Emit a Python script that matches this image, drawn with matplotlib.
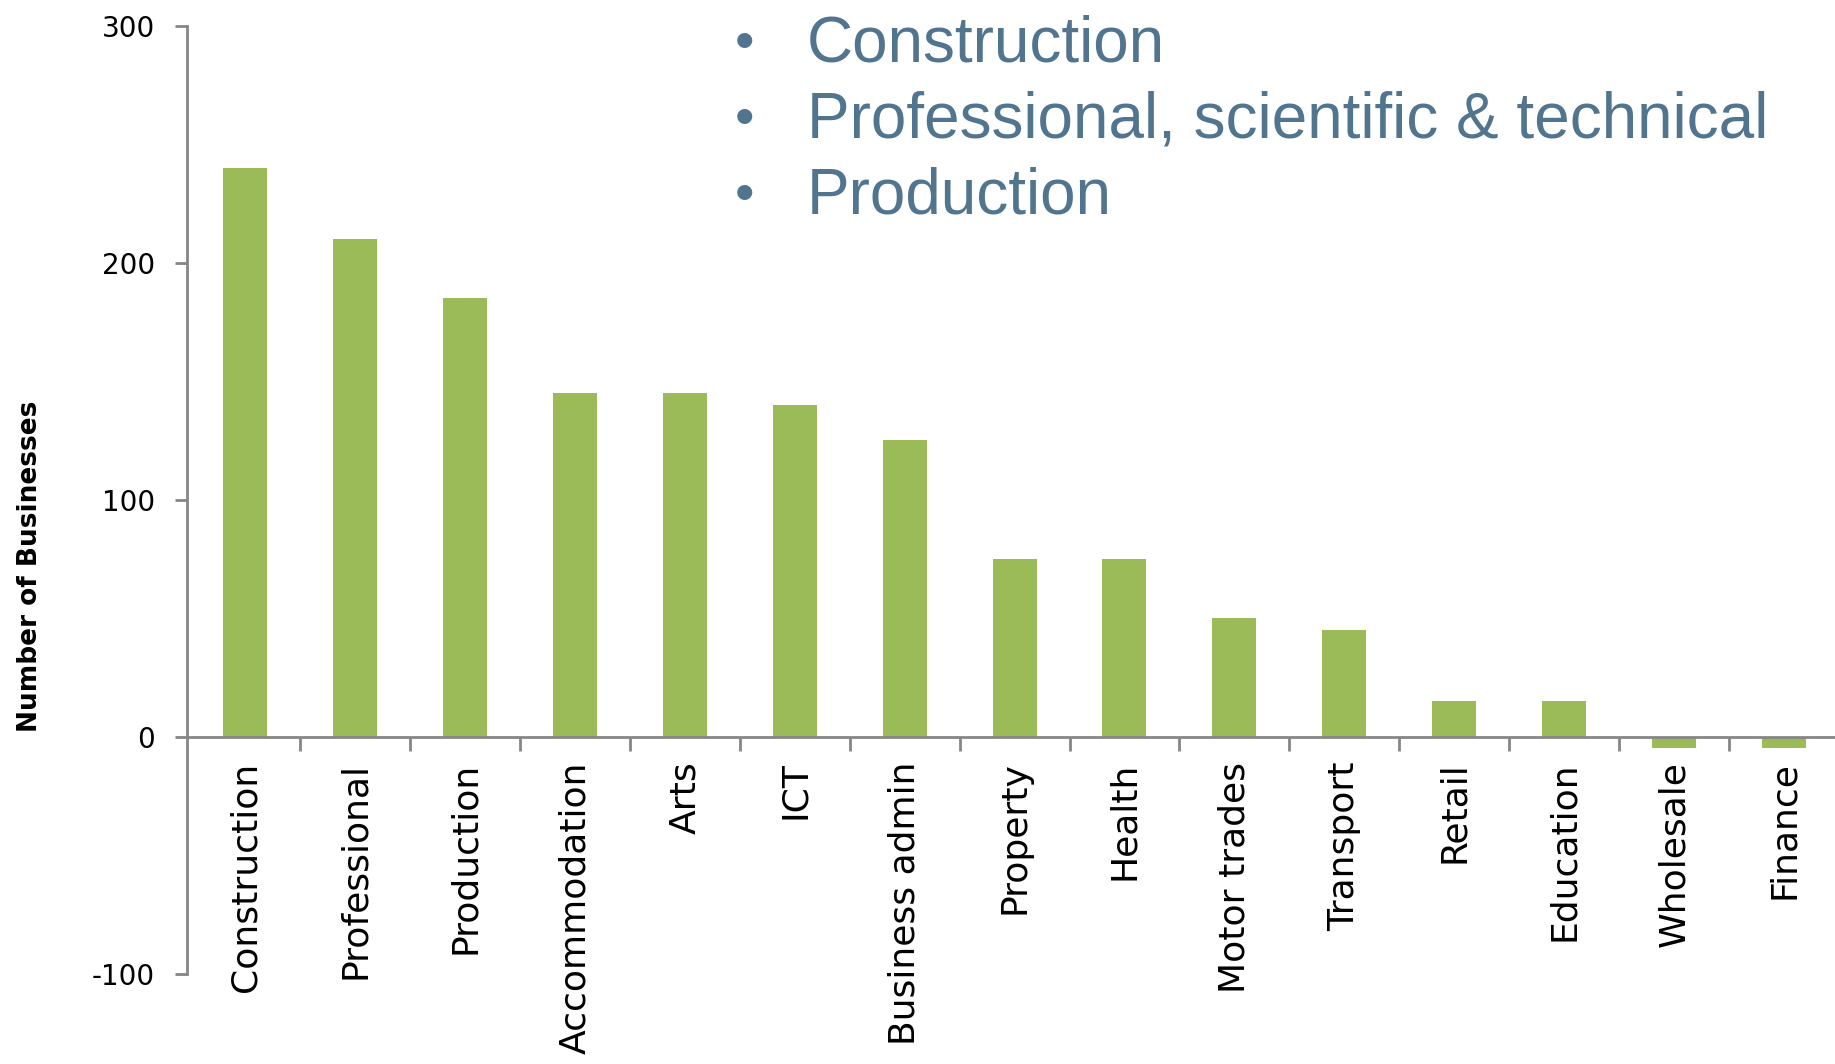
import numpy as np
import matplotlib.pyplot as plt

# sectors and net change in number of businesses
sectors = ['Construction', 'Professional', 'Production', 'Accommodation', 'Arts',
           'ICT', 'Business admin', 'Property', 'Health', 'Motor trades',
           'Transport', 'Retail', 'Education', 'Wholesale', 'Finance']
values = [240, 210, 185, 145, 145, 140, 125, 75, 75, 50, 45, 15, 15, -5, -5]
yticks = [-100, 0, 100, 200, 300]
bullets = ['Construction', 'Professional, scientific & technical', 'Production']

bar_color = '#9BBB59'
axis_color = '#868686'
note_color = '#52758F'

fig = plt.figure(figsize=(18.35, 10.64), dpi=100)
ax = fig.add_axes([0.102, 0.085, 0.9, 0.891])

x = np.arange(len(sectors))
ax.bar(x, values, width=0.4, color=bar_color, zorder=2)

ax.set_xlim(-0.53, len(sectors) - 0.5)
ax.set_ylim(-100, 300)

for s in ['top', 'right']:
    ax.spines[s].set_visible(False)
ax.spines['left'].set_color(axis_color)
ax.spines['left'].set_linewidth(2)
ax.spines['bottom'].set_color(axis_color)
ax.spines['bottom'].set_linewidth(2)
ax.spines['bottom'].set_position(('data', 0))

ax.set_yticks(yticks)
ax.set_yticklabels([str(v) for v in yticks], fontsize=20, family='DejaVu Sans')
ax.tick_params(axis='y', length=9, width=2, color=axis_color, pad=14)

ax.set_xticks(x)
ax.set_xticklabels(sectors, rotation=90, fontsize=26, family='DejaVu Sans',
                   va='top', ha='center')
ax.set_xticks(np.arange(len(sectors) - 1) + 0.5, minor=True)
ax.tick_params(axis='x', which='major', length=0, pad=18)
ax.tick_params(axis='x', which='minor', length=10, width=2, color=axis_color,
               direction='out')

ax.set_ylabel('Number of Businesses', fontsize=19, fontweight='bold',
              family='DejaVu Sans')
ax.yaxis.set_label_coords(-0.087, 0.43)

# bullet points overlaid at the top
for i, line in enumerate(bullets):
    yy = 1 - (45 + i * 76) / 1064
    fig.text(735 / 1835, yy, '\u2022', fontsize=40, color=note_color,
             family='Liberation Sans', va='center')
    fig.text(807 / 1835, yy, line, fontsize=46, color=note_color,
             family='Liberation Sans', va='center')

fig.savefig('out.png', dpi=100)
